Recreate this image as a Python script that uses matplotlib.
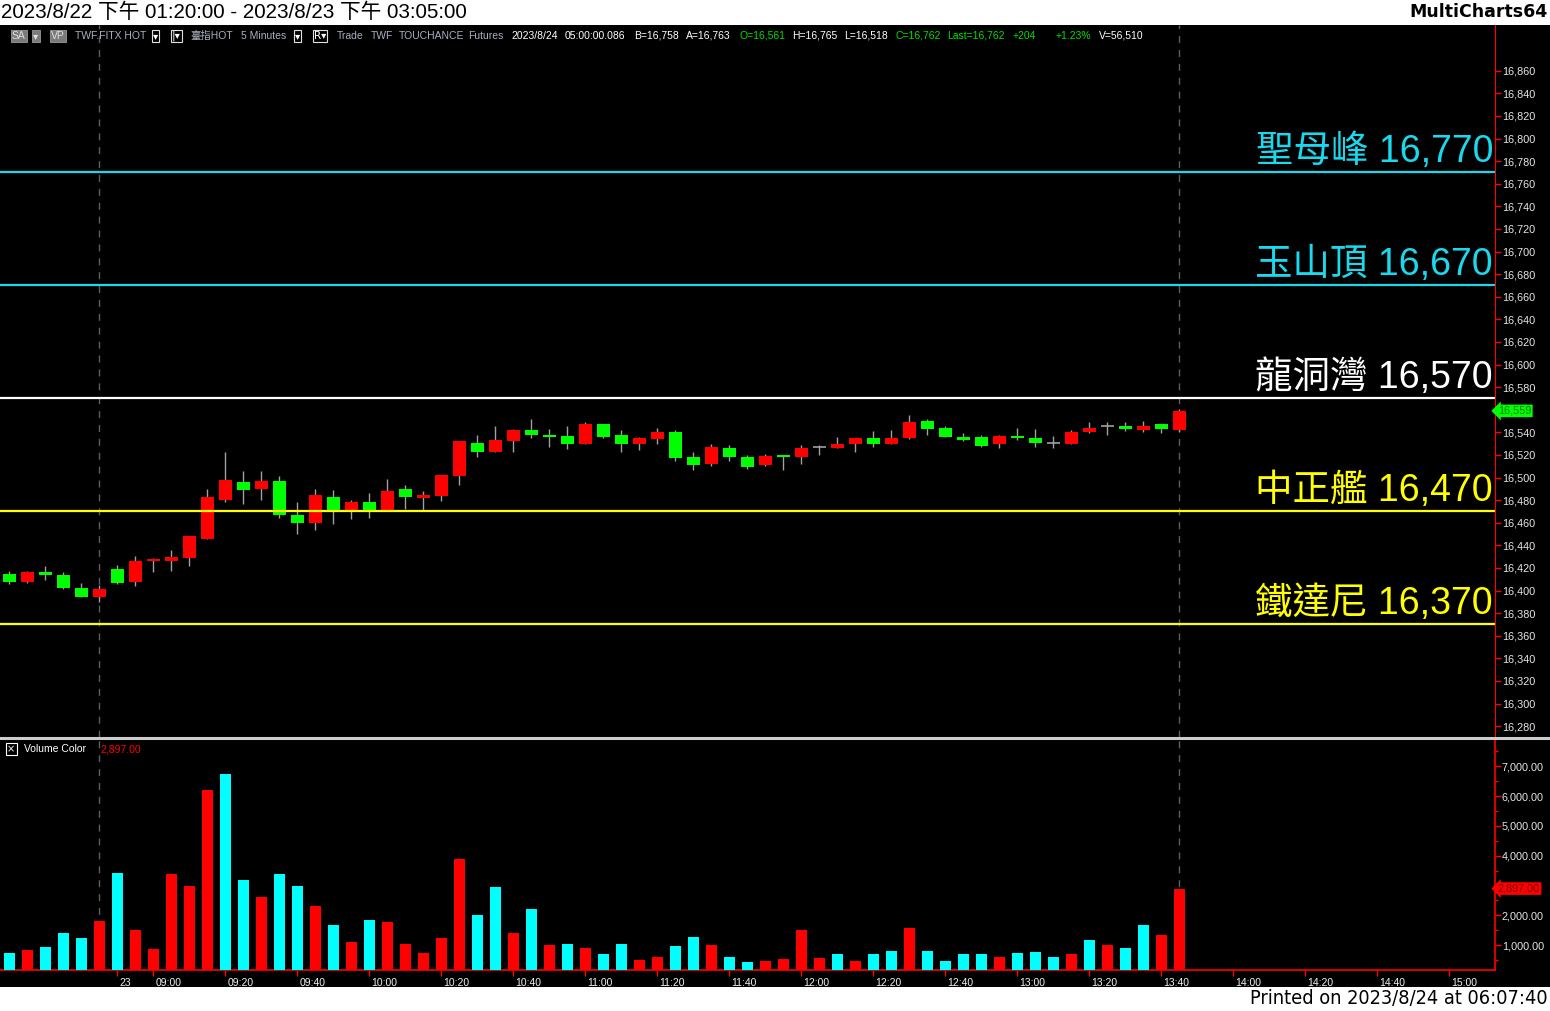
import numpy as np
import matplotlib
matplotlib.use('Agg')
import matplotlib.pyplot as plt
import matplotlib.transforms as mtransforms
from matplotlib.patches import Rectangle
from matplotlib.lines import Line2D
from matplotlib.ticker import FuncFormatter, MultipleLocator

plt.rcParams['font.family'] = ['Liberation Sans', 'Noto Sans CJK TC', 'DejaVu Sans']

# 台指期 5 分 K（8/22 夜盤尾段 + 8/23 日盤）
opens = [16415, 16408, 16416, 16414, 16402, 16394, 16419, 16408, 16426, 16426,
         16429, 16446, 16480, 16496, 16490, 16497, 16467, 16460, 16483, 16471,
         16478, 16471, 16490, 16482, 16484, 16501, 16531, 16523, 16532, 16542,
         16538, 16537, 16530, 16547, 16538, 16530, 16534, 16540, 16518, 16512,
         16526, 16518, 16511, 16520, 16518, 16527, 16526, 16530, 16535, 16530,
         16535, 16550, 16544, 16536, 16536, 16530, 16537, 16535, 16531, 16530,
         16540, 16546, 16546, 16542, 16547, 16542]
highs = [16417, 16417, 16422, 16416, 16407, 16405, 16423, 16431, 16429, 16436,
         16448, 16490, 16523, 16506, 16506, 16501, 16478, 16490, 16489, 16480,
         16486, 16499, 16493, 16488, 16502, 16532, 16538, 16546, 16543, 16552,
         16543, 16546, 16549, 16547, 16542, 16536, 16544, 16542, 16523, 16530,
         16529, 16520, 16521, 16520, 16529, 16529, 16536, 16535, 16541, 16542,
         16555, 16552, 16546, 16539, 16538, 16538, 16544, 16543, 16537, 16542,
         16549, 16549, 16549, 16550, 16547, 16561]
lows = [16406, 16407, 16409, 16401, 16394, 16390, 16406, 16404, 16416, 16417,
        16422, 16446, 16478, 16477, 16480, 16464, 16450, 16454, 16459, 16463,
        16464, 16471, 16472, 16471, 16479, 16493, 16518, 16523, 16523, 16535,
        16527, 16525, 16530, 16535, 16523, 16524, 16530, 16515, 16507, 16510,
        16515, 16508, 16510, 16507, 16512, 16520, 16526, 16523, 16527, 16530,
        16534, 16538, 16536, 16532, 16527, 16526, 16533, 16527, 16526, 16530,
        16539, 16538, 16541, 16540, 16539, 16540]
closes = [16408, 16416, 16414, 16402, 16394, 16401, 16407, 16426, 16428, 16430,
          16448, 16483, 16498, 16489, 16497, 16467, 16460, 16485, 16471, 16478,
          16471, 16488, 16483, 16485, 16502, 16532, 16523, 16533, 16542, 16538,
          16536, 16530, 16547, 16536, 16530, 16535, 16540, 16517, 16511, 16527,
          16518, 16509, 16519, 16518, 16526, 16527, 16530, 16535, 16530, 16535,
          16549, 16543, 16536, 16533, 16528, 16537, 16535, 16531, 16531, 16540,
          16544, 16546, 16543, 16546, 16543, 16559]
volumes = [748, 849, 950, 1424, 1254, 1795, 3417, 1524, 883, 3383,
           2978, 6188, 6729, 3180, 2606, 3383, 2978, 2301, 1693, 1119,
           1829, 1761, 1052, 748, 1254, 3900, 1997, 2944, 1424, 2200,
           1018, 1052, 916, 714, 1052, 510, 613, 985, 1287, 1018,
           613, 443, 477, 544, 1524, 578, 714, 477, 714, 815,
           1592, 815, 477, 714, 714, 613, 748, 782, 613, 714,
           1187, 1018, 916, 1693, 1355, 2897]
# c = 外盤(青), r = 內盤(紅)
vol_side = list("crcccrcrrr" "rrccrccrcr" "crrrrrccrc" "rcrccrrccr"
                "ccrrrrcrcc" "rccccrcccr" "crccrr")

time_ticks = [6, 8, 12, 16, 20, 24, 28, 32, 36, 40, 44, 48, 52, 56, 60, 64, 68, 72, 76, 80]
time_labels = ['23', '09:00', '09:20', '09:40', '10:00', '10:20', '10:40', '11:00', '11:20',
               '11:40', '12:00', '12:20', '12:40', '13:00', '13:20', '13:40', '14:00',
               '14:20', '14:40', '15:00']
session_marks = [5, 65]

levels = [16770, 16670, 16570, 16470, 16370]
level_names = ['聖母峰', '玉山頂', '龍洞灣', '中正艦', '鐵達尼']
level_colors = ['#19d9ee', '#19d9ee', '#ffffff', '#ffff00', '#ffff00']

W, H = 1550, 1011


def fx(px):
    return px / W


def fy(py):
    return 1 - py / H


fig = plt.figure(figsize=(15.5, 10.11), dpi=100, facecolor='white')
fig.patches.append(Rectangle((0, fy(987)), 1, (987 - 25) / H, transform=fig.transFigure,
                             facecolor='black', edgecolor='none', zorder=-10))

x = np.arange(len(closes))
o = np.array(opens)
c = np.array(closes)
xlim = (-0.522, 82.533)

# ---- 價格區 ----
ax = fig.add_axes([0, fy(737), fx(1495), (737 - 25) / H], facecolor='black')
ax.vlines(x, lows, highs, color='#a0a0a0', lw=1, zorder=2)
up = c > o
dn = c < o
eq = c == o
ax.bar(x[up], (c - o)[up], bottom=o[up], width=0.72, color='#ff0000', lw=0, zorder=3)
ax.bar(x[dn], (o - c)[dn], bottom=c[dn], width=0.72, color='#00ff00', lw=0, zorder=3)
ax.hlines(c[eq], x[eq] - 0.38, x[eq] + 0.38, color='#a0a0a0', lw=1.2, zorder=3)

for lv, name, col in zip(levels, level_names, level_colors):
    ax.axhline(lv, color=col, lw=1.6, zorder=4)
    ax.text(1493 / 1495, lv + 2, f'{name} {lv:,}', transform=ax.get_yaxis_transform(),
            ha='right', va='bottom', fontsize=27, color=col, zorder=5)

for m in session_marks:
    ax.axvline(m, color='#5e5e5e', lw=1, ls=(0, (5, 5)), zorder=1)

ax.set_xlim(*xlim)
ax.set_ylim(16270.4, 16900.5)
for s in ax.spines.values():
    s.set_visible(False)
ax.spines['right'].set_visible(True)
ax.spines['right'].set_color('#ff0000')
ax.yaxis.tick_right()
ax.set_yticks(np.arange(16280, 16861, 20))
# 最新價標籤蓋住的刻度不顯示文字
ax.yaxis.set_major_formatter(FuncFormatter(
    lambda v, p: '' if abs(v - closes[-1]) < 10 else f'{v:,.0f}'))
ax.tick_params(axis='y', colors='#ff0000', labelcolor='#e6e6e6', length=4, width=1,
               pad=0.8, labelsize=7.8)
ax.set_xticks([])

ax.text(1.002, closes[-1], f'{closes[-1]:,}', transform=ax.get_yaxis_transform(),
        ha='left', va='center', fontsize=7.8, color='#007a00', clip_on=False, zorder=6,
        bbox=dict(boxstyle='larrow,pad=0.12', fc='#00ff00', ec='none'))

# ---- 分隔線 ----
fig.add_artist(Line2D([0, 1], [fy(738), fy(738)], transform=fig.transFigure,
                      color='#cccccc', lw=2.2))

# ---- 成交量區 ----
axv = fig.add_axes([0, fy(970), fx(1495), (970 - 740) / H], facecolor='black')
vcols = ['#00ffff' if s == 'c' else '#ff0000' for s in vol_side]
axv.bar(x, volumes, width=0.62, color=vcols, lw=0, zorder=3)
for m in session_marks:
    axv.axvline(m, color='#5e5e5e', lw=1, ls=(0, (5, 5)), zorder=1)
axv.set_xlim(*xlim)
axv.set_ylim(168, 7878)
for s in axv.spines.values():
    s.set_visible(False)
for side in ['right', 'bottom']:
    axv.spines[side].set_visible(True)
    axv.spines[side].set_color('#ff0000')
    axv.spines[side].set_linewidth(1.2)
axv.yaxis.tick_right()
axv.set_yticks(range(1000, 8000, 1000))
axv.yaxis.set_minor_locator(MultipleLocator(500))
axv.yaxis.set_major_formatter(FuncFormatter(
    lambda v, p: '' if abs(v - volumes[-1]) < 500 else f'{v:,.2f}'))
axv.tick_params(axis='y', which='both', colors='#ff0000', labelcolor='#e6e6e6', length=4,
                width=1, pad=0.8, labelsize=7.8)
axv.tick_params(axis='y', which='minor', length=2)
axv.set_xticks(time_ticks)
axv.set_xticklabels(time_labels)
axv.tick_params(axis='x', colors='#ff0000', labelcolor='#f0f0f0', length=4, width=1,
                pad=2, labelsize=7.5)
shift = mtransforms.ScaledTranslation(2 / 100, 0, fig.dpi_scale_trans)
for lab in axv.get_xticklabels():
    lab.set_horizontalalignment('left')
    lab.set_transform(lab.get_transform() + shift)

axv.text(1.002, volumes[-1], f'{volumes[-1]:,.2f}', transform=axv.get_yaxis_transform(),
         ha='left', va='center', fontsize=7.8, color='#7a0000', clip_on=False, zorder=6,
         bbox=dict(boxstyle='larrow,pad=0.12', fc='#ff0000', ec='none'))

fig.text(fx(7), fy(749), '×', fontsize=7, color='white', ha='left', va='center',
         family='DejaVu Sans',
         bbox=dict(boxstyle='square,pad=0.15', fc='black', ec='white', lw=0.8))
fig.text(fx(24), fy(749), 'Volume Color', fontsize=7.5, color='white', va='center')
fig.text(fx(100), fy(749), f'{volumes[-1]:,.2f}', fontsize=7.5, color='#ff0000', va='center')

# ---- 標頭列 ----
hy = fy(36)
gray_box = dict(boxstyle='square,pad=0.12', fc='#7a7a7a', ec='#9a9a9a', lw=0.6)
line_box = dict(boxstyle='square,pad=0.1', fc='black', ec='#e0e0e0', lw=0.8)
fig.text(fx(12), hy, 'SA', fontsize=7.5, color='#e0e0e0', va='center', bbox=gray_box)
fig.text(fx(33), hy, '▾', fontsize=7.5, color='#e0e0e0', va='center', bbox=gray_box,
         family='DejaVu Sans')
fig.text(fx(51), hy, 'VP', fontsize=7.5, color='#e0e0e0', va='center', bbox=gray_box)
fig.text(fx(153), hy, '▾', fontsize=7.5, color='white', va='center', bbox=line_box,
         family='DejaVu Sans')
fig.text(fx(172), hy, '|▾', fontsize=7.5, color='white', va='center', bbox=line_box,
         family='DejaVu Sans')
fig.text(fx(295), hy, '▾', fontsize=7.5, color='white', va='center', bbox=line_box,
         family='DejaVu Sans')
fig.text(fx(314), hy, 'R▾', fontsize=7.5, color='white', va='center', bbox=line_box,
         family='DejaVu Sans')

header = [(75, 'TWF.FITX HOT', '#a8b0c0'), (190, '臺指HOT', '#a8b0c0'),
          (241, '5 Minutes', '#a8b0c0'), (337, 'Trade', '#a8b0c0'), (371, 'TWF', '#a8b0c0'),
          (399, 'TOUCHANCE', '#a8b0c0'), (468, 'Futures', '#a8b0c0'),
          (511, '2023/8/24', 'white'), (565, '05:00:00.086', 'white'),
          (634, 'B=16,758', 'white'), (686, 'A=16,763', 'white'),
          (739, 'O=16,561', '#00e000'), (792, 'H=16,765', 'white'),
          (844, 'L=16,518', 'white'), (895, 'C=16,762', '#00e000'),
          (947, 'Last=16,762', '#00e000'), (1013, '+204', '#00e000'),
          (1056, '+1.23%', '#00e000'), (1099, 'V=56,510', 'white')]
for px, txt, col in header:
    fig.text(fx(px), hy, txt, fontsize=7.5, color=col, va='center')

# ---- 上下白邊文字 ----
fig.text(fx(1), fy(12), '2023/8/22 下午 01:20:00 - 2023/8/23 下午 03:05:00',
         fontsize=14.9, color='black', va='center')
fig.text(fx(1548), fy(12), 'MultiCharts64', fontsize=12.5, weight='bold', color='black',
         ha='right', va='center', family='DejaVu Sans')
fig.text(fx(1548), fy(999), 'Printed on 2023/8/24 at 06:07:40', fontsize=14.3,
         color='black', ha='right', va='center', family='DejaVu Sans',
         fontstretch='condensed')

fig.savefig('out.png', dpi=100, facecolor='white')
